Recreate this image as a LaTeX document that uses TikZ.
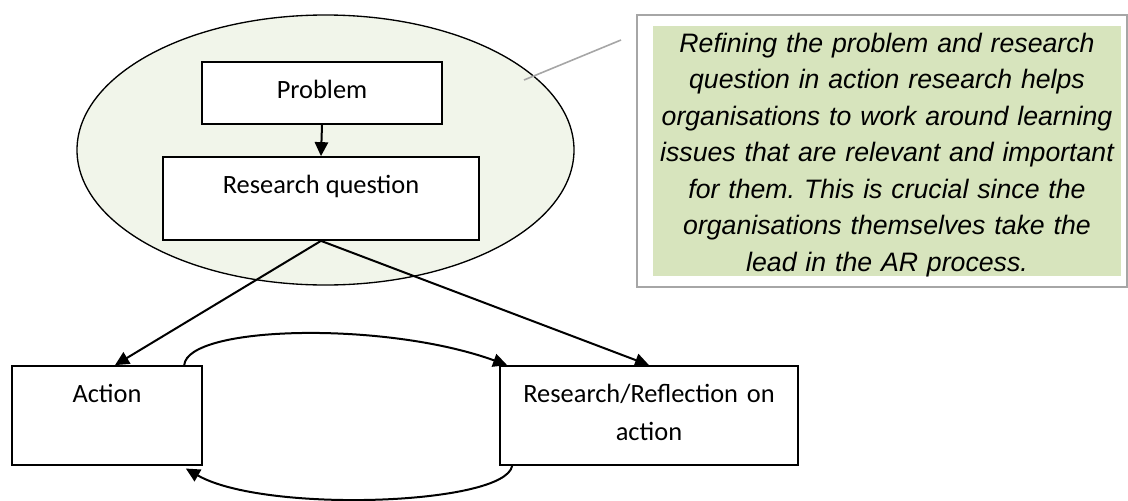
\documentclass[tikz,border=0pt]{standalone}
\usepackage{fontspec}
\setmainfont{Carlito}
\newfontfamily\notefont{Liberation Sans}
\usetikzlibrary{shapes.geometric, arrows.meta, positioning, calc}
\definecolor{areafill}{HTML}{F1F5EA}
\definecolor{notefill}{HTML}{D7E4BD}
\definecolor{noteline}{HTML}{A6A6A6}
\frenchspacing

\begin{document}
\begin{tikzpicture}[x=0.75pt, y=-0.75pt,
		ar_block/.style = {draw, line width=1.3pt, fill=white, rectangle, align=center, inner sep=0pt, text height=27pt, font={\fontsize{19.8}{29}\selectfont}},
		% Zona resaltada alrededor del problema
		focus_area/.style = {draw, line width=1pt, fill=areafill, ellipse, inner sep=0pt},
		note_frame/.style = {draw=noteline, line width=1.2pt, fill=white, rectangle, inner sep=0pt},
		note_block/.style = {fill=notefill, rectangle, inner sep=0pt, text width=351pt, align=center, font={\notefont\itshape\fontsize{20}{27.4}\selectfont}},
		link/.style = {line width=1.5pt, ->},
		>={Triangle[length=10.5pt, width=10pt]}
		]
		\useasboundingbox (0,0) rectangle (1128,500);
		
		% --- ZONA DEL PROBLEMA ---
		\node [focus_area, minimum width=372.75pt, minimum height=202.5pt] (focus) at (325.5, 150) {};
		\node [ar_block, minimum width=180pt, text depth=19.5pt] (prob) at (322, 93) {Problem};
		\node [ar_block, minimum width=237pt, text depth=35.25pt] (rq) at (321, 198.5) {Research question};
		
		% --- CICLO ---
		\node [ar_block, minimum width=142.5pt, text depth=47.25pt] (act) at (107, 415.5) {Action};
		\node [ar_block, text width=223.5pt, text depth=47.25pt] (res) at (649, 415.5) {Research/Reflection on\\action};
		
		% --- NOTA ---
		\node [note_frame, minimum width=367.5pt, minimum height=204pt] (frame) at (882, 151) {};
		\node [note_block, text height=19.5pt, text depth=168pt] (note) at (887, 151) {Refining the problem and research\\
			question in action research helps\\
			organisations to work around learning\\
			issues that are relevant and important\\
			for them. This is crucial since the\\
			organisations themselves take the\\
			lead in the AR process.};
		
		\coordinate (call_a) at (621, 40);
		\coordinate (call_b) at (524, 80);
		\draw [noteline, line width=1.2pt] (call_a) -- (call_b);
		
		% --- CONEXIONES ---
		\draw [link] (prob.south) -- (rq.north);
		\draw [link] (rq.south) -- ([xshift=6pt]act.north);
		\draw [link] (rq.south) -- (res.north);
		
		% Acción <-> reflexión
		\draw [link] ([xshift=-14pt]act.north east) to[out=85, in=160, out distance=30pt, in distance=97pt] ([xshift=6pt]res.north west);
		\draw [link] ([xshift=9.75pt]res.south west) to[out=-100, in=-30, out distance=30pt, in distance=67.5pt] ([xshift=-12.75pt, yshift=-2pt]act.south east);
		
	\end{tikzpicture}
\end{document}
